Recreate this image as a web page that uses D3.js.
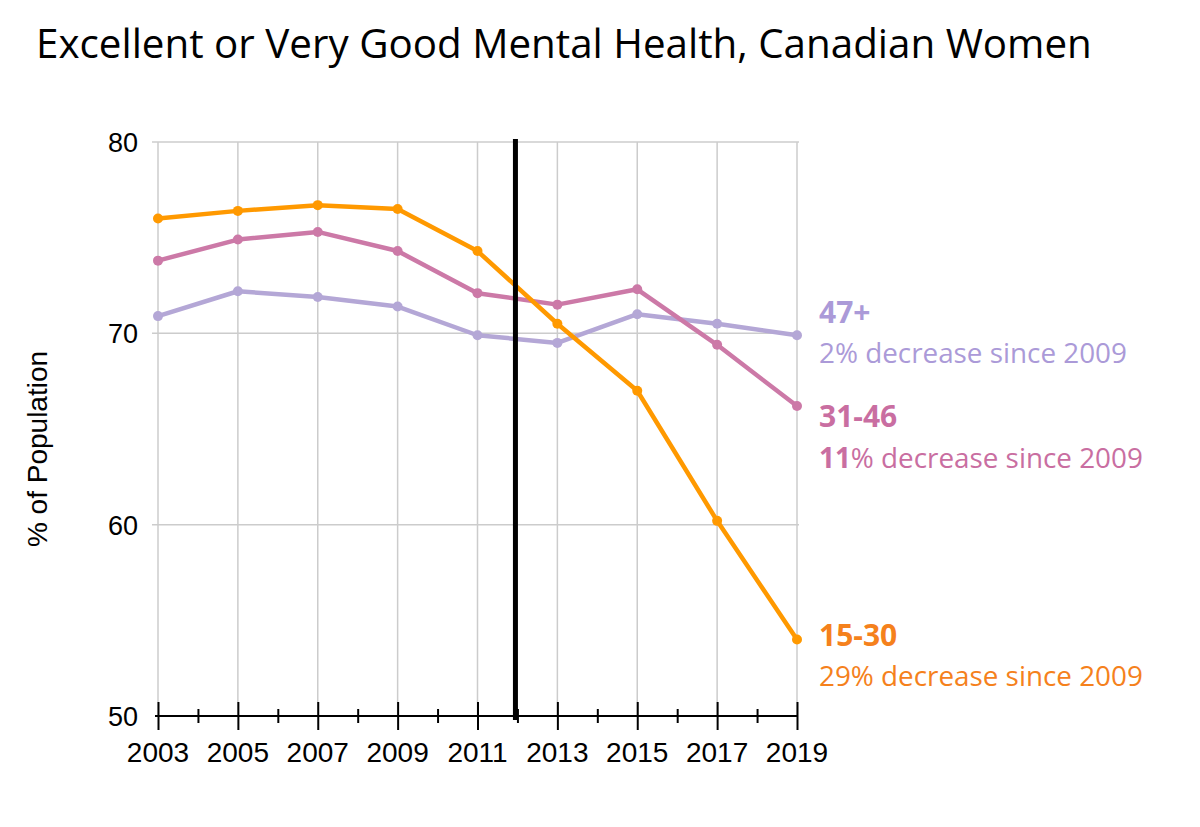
<!DOCTYPE html>
<html>
<head>
<meta charset="utf-8">
<script src="https://cdn.jsdelivr.net/npm/d3@7"></script>
<style>
  body { margin: 0; background: #fff; }
  svg { display: block; }
</style>
</head>
<body>
<div id="chart"></div>
<script>
const years = [2003, 2005, 2007, 2009, 2011, 2013, 2015, 2017, 2019];
const age15to30 = [76.0, 76.4, 76.7, 76.5, 74.3, 70.5, 67.0, 60.2, 54.0];
const age31to46 = [73.8, 74.9, 75.3, 74.3, 72.1, 71.5, 72.3, 69.4, 66.2];
const age47plus = [70.9, 72.2, 71.9, 71.4, 69.9, 69.5, 71.0, 70.5, 69.9];
const yTicks = [50, 60, 70, 80];
const markerYear = 2012;

const series = [
  { name: "47+", note: "2% decrease since 2009", bold: "", values: age47plus, line: "#b4a7d6", text: "#ab9ad8" },
  { name: "31-46", note: "% decrease since 2009", bold: "11", values: age31to46, line: "#cc79a7", text: "#c96ea1" },
  { name: "15-30", note: "29% decrease since 2009", bold: "", values: age15to30, line: "#ff9900", text: "#f5811c" }
];

const width = 1200, height = 827;
const svg = d3.select("#chart").append("svg")
  .attr("width", width)
  .attr("height", height);

const x = d3.scaleLinear().domain([2003, 2019]).range([158, 797]);
const y = d3.scaleLinear().domain([50, 80]).range([716, 142]);

// title, sized to the width it has in the picture
const title = svg.append("text")
  .attr("x", 36)
  .attr("y", 58)
  .style("font-family", "'Open Sans', sans-serif")
  .style("font-size", "40px")
  .text("Excellent or Very Good Mental Health, Canadian Women");
const tw = title.node().getComputedTextLength();
title.style("font-size", (40 * 1056 / tw) + "px");

// gridlines
const grid = svg.append("g");
grid.selectAll("line.v")
  .data(years)
  .enter().append("line")
  .attr("x1", d => x(d)).attr("x2", d => x(d))
  .attr("y1", y(80)).attr("y2", y(50))
  .attr("stroke", "#cccccc")
  .attr("stroke-width", 1.5);
grid.selectAll("line.h")
  .data(yTicks.filter(d => d > 50))
  .enter().append("line")
  .attr("x1", x(2003) - 6).attr("x2", x(2019) + 2)
  .attr("y1", d => y(d)).attr("y2", d => y(d))
  .attr("stroke", "#cccccc")
  .attr("stroke-width", 1.5);

// y tick labels
svg.append("g").selectAll("text")
  .data(yTicks)
  .enter().append("text")
  .attr("x", 138)
  .attr("y", d => y(d) + 10)
  .attr("text-anchor", "end")
  .style("font-family", "Arial, 'Liberation Sans', sans-serif")
  .style("font-size", "27px")
  .text(d => d);

svg.append("text")
  .attr("transform", `translate(47,${(y(50) + y(80)) / 2 + 20}) rotate(-90)`)
  .attr("text-anchor", "middle")
  .style("font-family", "Arial, 'Liberation Sans', sans-serif")
  .style("font-size", "28px")
  .text("% of Population");

// x axis: major ticks every 2 years, minor in between
const xAxisMajor = d3.axisBottom(x).tickValues(years).tickSize(14).tickFormat("");
const xAxisMinor = d3.axisBottom(x).tickValues(d3.range(2004, 2019, 2)).tickSize(7).tickFormat("");
const axG = svg.append("g").attr("transform", `translate(0,${y(50)})`);
axG.append("g").call(xAxisMinor).call(g => {
  g.select(".domain").remove();
  g.selectAll(".tick line").attr("y1", -7).attr("stroke", "#000").attr("stroke-width", 2);
});
axG.append("g").call(xAxisMajor).call(g => {
  g.select(".domain").remove();
  g.selectAll(".tick line").attr("y1", -14).attr("stroke", "#000").attr("stroke-width", 2);
});
axG.append("line")
  .attr("x1", x(2003) - 3).attr("x2", x(2019))
  .attr("stroke", "#000").attr("stroke-width", 2);
axG.append("g").selectAll("text")
  .data(years)
  .enter().append("text")
  .attr("x", d => x(d))
  .attr("y", 46)
  .attr("text-anchor", "middle")
  .style("font-family", "Arial, 'Liberation Sans', sans-serif")
  .style("font-size", "28px")
  .text(d => d);

// lines
const line = d3.line().x((d, i) => x(years[i])).y(d => y(d));
series.forEach(s => {
  const g = svg.append("g");
  g.append("path")
    .datum(s.values)
    .attr("d", line)
    .attr("fill", "none")
    .attr("stroke", s.line)
    .attr("stroke-width", 4.5)
    .attr("stroke-linejoin", "round");
  g.selectAll("circle")
    .data(s.values)
    .enter().append("circle")
    .attr("cx", (d, i) => x(years[i]))
    .attr("cy", d => y(d))
    .attr("r", 5)
    .attr("fill", s.line);
});

// vertical marker line
svg.append("line")
  .attr("x1", x(markerYear) - 2).attr("x2", x(markerYear) - 2)
  .attr("y1", y(80) - 3).attr("y2", y(50) + 4)
  .attr("stroke", "#000")
  .attr("stroke-width", 5);

// end labels
const labelY = [{ head: 323, note: 363 }, { head: 427, note: 468 }, { head: 646, note: 686 }];
const noteWidths = [308, 324, 324];
series.forEach((s, i) => {
  svg.append("text")
    .attr("x", 819)
    .attr("y", labelY[i].head)
    .attr("fill", s.text)
    .style("font-family", "'Open Sans', sans-serif")
    .style("font-weight", "bold")
    .style("font-size", "30px")
    .text(s.name);
  const t = svg.append("text")
    .attr("x", 819)
    .attr("y", labelY[i].note)
    .attr("fill", s.text)
    .style("font-family", "'Open Sans', sans-serif")
    .style("font-size", "26px");
  if (s.bold) t.append("tspan").style("font-weight", "bold").text(s.bold);
  t.append("tspan").text(s.note);
  const w = t.node().getComputedTextLength();
  t.style("font-size", (26 * noteWidths[i] / w) + "px");
});
</script>
</body>
</html>
